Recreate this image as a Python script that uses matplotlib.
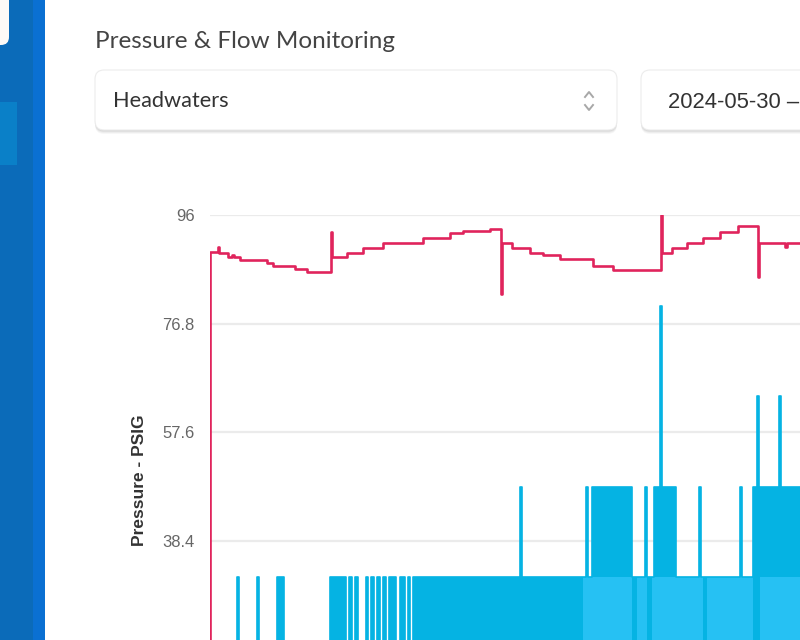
import matplotlib
matplotlib.use("Agg")
import matplotlib.pyplot as plt
from matplotlib.patches import FancyBboxPatch
from matplotlib.lines import Line2D
from matplotlib.transforms import Affine2D

# --- data (hours since window start) ---
PAGE_TITLE = "Pressure & Flow Monitoring"
SITE = "Headwaters"
DATE_RANGE = "2024-05-30 \u2013"
Y_LABEL = "Pressure - PSIG"
Y_TICKS = [19.2, 38.4, 57.6, 76.8, 96]
Y_TICK_LABELS = ["19.2", "38.4", "57.6", "76.8", "96"]

pressure_t = [0.0, 0.06, 1.6, 1.8, 3.6, 4.4, 4.8, 6.0, 11.4, 12.6, 17.0, 19.4,
              24.2, 24.4, 27.4, 30.6, 34.6, 42.6, 48.0, 50.6, 56.0, 58.2, 58.4,
              60.4, 64.0, 66.6, 70.0, 76.6, 80.6, 90.2, 90.4, 92.4, 95.4, 98.6,
              102.0, 105.6, 109.6, 109.8, 115.0, 115.4, 118.0]
pressure_v = [0.0, 89.5, 90.3, 89.3, 88.6, 88.9, 88.6, 88.0, 87.5, 87.0, 86.5, 86.0,
              93.0, 88.6, 89.3, 90.1, 91.1, 91.9, 92.8, 93.2, 93.6, 82.0, 91.0,
              90.1, 89.3, 88.9, 88.2, 87.0, 86.2, 96.0, 89.2, 90.1, 91.0, 91.9,
              93.0, 94.1, 85.0, 91.0, 90.4, 91.0, 91.0]

flow_a_t = [0.0, 5.4, 5.8, 9.4, 9.8, 13.4, 14.8, 24.0, 27.2, 27.8, 28.4, 29.0, 29.6,
            31.2, 31.6, 32.2, 32.8, 33.4, 34.0, 34.6, 35.2, 35.8, 37.2, 38.0, 39.0,
            39.6, 40.0, 40.6, 62.0, 62.4, 75.2, 75.6, 76.4, 84.4, 87.0, 87.4, 88.8,
            90.0, 90.4, 93.2, 97.8, 98.2, 106.0, 106.4, 108.6, 109.4, 109.8, 113.8,
            114.2, 118.0]
flow_a_v = [0, 32, 0, 32, 0, 32, 0, 32, 0, 32, 0, 32, 0,
            32, 0, 32, 0, 32, 0, 32, 0, 32, 0, 32, 0,
            32, 0, 32, 48, 32, 48, 32, 48, 32, 48, 32, 48,
            80, 48, 32, 48, 32, 48, 32, 48, 64, 48, 64,
            48, 48]

flow_b_t = [0.0, 74.6, 84.4, 85.4, 87.4, 88.4, 98.6, 99.4, 108.6, 110.0, 118.0]
flow_b_v = [0, 32, 0, 32, 0, 32, 0, 32, 0, 32, 32]

RED = "#e0245c"
BLUE_A = "#05b3e3"
BLUE_B = "#26c1f3"
GRID = "#ebebeb"

W, H = 800, 640
fig = plt.figure(figsize=(W / 100, H / 100), dpi=100)
fig.patch.set_facecolor("white")
px = Affine2D().scale(1 / W, 1 / H) + fig.transFigure


def Y(y):
    return H - y


def box(x0, y0, x1, y1, color, radius=0, shadow=False, edge="none"):
    if shadow:
        for off, a in ((1, 0.05), (2, 0.05), (3, 0.04), (4, 0.03)):
            fig.patches.append(FancyBboxPatch(
                (x0, Y(y1) - off), x1 - x0, y1 - y0,
                boxstyle=f"round,pad=0,rounding_size={radius}",
                transform=px, facecolor="black", alpha=a, edgecolor="none"))
    style = f"round,pad=0,rounding_size={radius}" if radius else "square,pad=0"
    fig.patches.append(FancyBboxPatch(
        (x0, Y(y1)), x1 - x0, y1 - y0, boxstyle=style, transform=px,
        facecolor=color, edgecolor=edge, linewidth=0.8))


# sidebar
box(0, 0, 45, 640, "#0b6bb9")
box(33, 0, 45, 640, "#0a70d2")
box(-20, -20, 9, 45, "#fdfaf7", radius=8)
box(0, 102, 17, 165, "#0a80c8")

# header and selectors
fig.text(95 / W, Y(41) / H, PAGE_TITLE, family="Lato", fontsize=17.5,
         color="#444444", va="center", ha="left")
box(95, 70, 617, 130, "white", radius=9, shadow=True, edge="#ececec")
box(641, 70, 830, 130, "white", radius=9, shadow=True, edge="#ececec")
fig.text(113 / W, Y(101) / H, SITE, family="Lato", fontsize=15.7,
         color="#333333", va="center", ha="left")
fig.text(668 / W, Y(102) / H, DATE_RANGE, family="Liberation Sans", fontsize=15.8,
         color="#333333", va="center", ha="left")
for ys in ((97, 92, 97), (105, 110, 105)):
    fig.lines.append(Line2D([585, 589, 593], [Y(v) for v in ys], transform=px,
                            color="#a8a8a8", linewidth=1.4))

# chart axes: top at 96 (y=215px), zero at ~758px, running past the crop
top_px, zero_px = 215, 758.5
ax = fig.add_axes([210 / W, Y(zero_px) / H, (W - 210) / W, (zero_px - top_px) / H])
ax.set_xlim(0, 118)
ax.set_ylim(0, 96)
for s in ax.spines.values():
    s.set_visible(False)
ax.set_xticks([])
ax.set_yticks(Y_TICKS)
ax.set_yticklabels(Y_TICK_LABELS, family="Liberation Sans", fontsize=12, color="#666666")
ax.tick_params(axis="y", length=0, pad=11)
ax.yaxis.grid(True, color=GRID, linewidth=1.6)
ax.set_axisbelow(True)
ax.set_ylabel(Y_LABEL, family="Liberation Sans", fontweight="bold", fontsize=12.5,
              color="#333333", va="center")
ax.yaxis.set_label_coords(-70 / 590, (zero_px - 480) / (zero_px - top_px))

ax.fill_between(flow_a_t, 0, flow_a_v, step="post", color=BLUE_A, linewidth=0)
ax.step(flow_a_t, flow_a_v, where="post", color=BLUE_A, linewidth=1.2)
ax.fill_between(flow_b_t, 0, flow_b_v, step="post", color=BLUE_B, linewidth=0)
ax.step(pressure_t, pressure_v, where="post", color=RED, linewidth=1.9)

fig.savefig("out.png", dpi=100, facecolor="white")
